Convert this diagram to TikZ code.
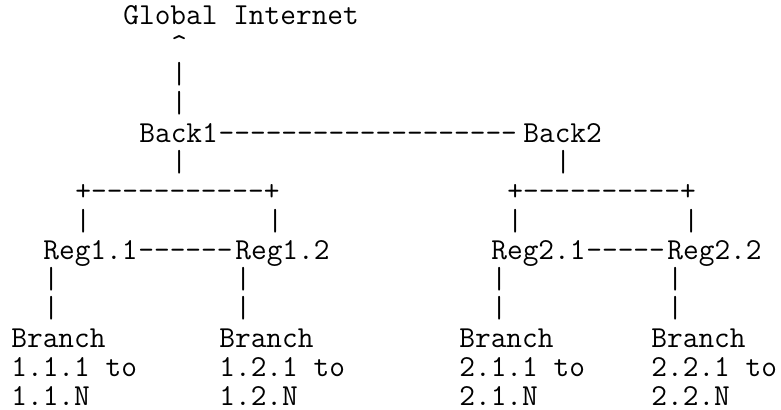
\documentclass[tikz,border=0pt]{standalone}
\usepackage{fontspec}

\tikzset{
  ascii/.style={inner sep=0pt, anchor=base west,
    font=\ttfamily\fontsize{15.24}{14.65}\selectfont}
}
% one label on the character grid: name, column, row, text
\newcommand{\NetLabel}[4]{
  \node[ascii] (#1) at (#2,#3) {#4};
}
% a run of dashes right after a node
\newcommand{\NetDashes}[3]{
  \node[ascii] (#1) at (#2.base east) {#3};
}
% vertical bars: name, column, first row, last row
\newcommand{\NetBars}[4]{
  \foreach \r in {#3,...,#4}
    \node[ascii] (#1-\r) at (#2,\r) {|};
}

\begin{document}
\begin{tikzpicture}[x=8pt,y=-14.65pt]
\useasboundingbox (-5.5pt,12.5pt) rectangle (385pt,-192.5pt);

\NetLabel{inet}{7}{0}{Global Internet}
\NetLabel{up}{10}{1}{\textasciicircum}
\NetBars{inetbar}{10}{2}{3}

\NetLabel{back1}{8}{4}{Back1}
\NetDashes{backlink}{back1}{-------------------}
\NetLabel{back2}{32}{4}{Back2}
\NetBars{b1bar}{10}{5}{5}
\NetBars{b2bar}{34}{5}{5}

\NetLabel{fork1}{4}{6}{+-----------+}
\NetLabel{fork2}{31}{6}{+----------+}
\NetBars{f1l}{4}{7}{7}
\NetBars{f1r}{16}{7}{7}
\NetBars{f2l}{31}{7}{7}
\NetBars{f2r}{42}{7}{7}

\NetLabel{reg11}{2}{8}{Reg1.1}
\NetDashes{reg1link}{reg11}{------}
\NetLabel{reg12}{14}{8}{Reg1.2}
\NetLabel{reg21}{30}{8}{Reg2.1}
\NetDashes{reg2link}{reg21}{-----}
\NetLabel{reg22}{41}{8}{Reg2.2}
\NetBars{r11bar}{2}{9}{10}
\NetBars{r12bar}{14}{9}{10}
\NetBars{r21bar}{30}{9}{10}
\NetBars{r22bar}{41}{9}{10}

% branches (base anchor sits on the last line)
\node[ascii, align=left] (br11) at (0,13) {Branch\\1.1.1 to\\1.1.N};
\node[ascii, align=left] (br12) at (13,13) {Branch\\1.2.1 to\\1.2.N};
\node[ascii, align=left] (br21) at (28,13) {Branch\\2.1.1 to\\2.1.N};
\node[ascii, align=left] (br22) at (40,13) {Branch\\2.2.1 to\\2.2.N};
\end{tikzpicture}
\end{document}
